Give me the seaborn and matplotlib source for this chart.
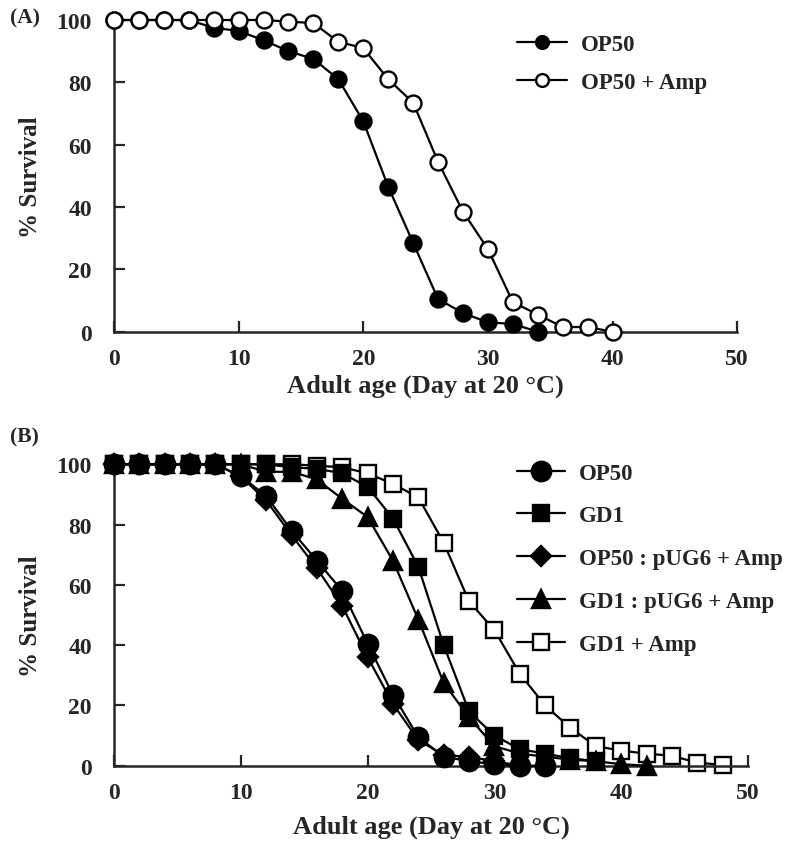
import matplotlib
matplotlib.use("Agg")
import matplotlib.pyplot as plt
import seaborn as sns

# Panel A
days_a_op50 = [0, 2, 4, 6, 8, 10, 12, 14, 16, 18, 20, 22, 24, 26, 28, 30, 32, 34]
surv_a_op50 = [100, 100, 100, 100, 97.5, 96.5, 93.5, 90, 87.5, 81, 67.5, 46.5, 28.5, 10.5, 6, 3, 2.5, 0]
days_a_amp = [0, 2, 4, 6, 8, 10, 12, 14, 16, 18, 20, 22, 24, 26, 28, 30, 32, 34, 36, 38, 40]
surv_a_amp = [100, 100, 100, 100, 100, 100, 100, 99.5, 99, 93, 91, 81, 73.5, 54.5, 38.5, 26.5, 9.5, 5.5, 1.5, 1.5, 0]

# Panel B
days_b_op50 = [0, 2, 4, 6, 8, 10, 12, 14, 16, 18, 20, 22, 24, 26, 28, 30, 32, 34]
surv_b_op50 = [100, 100, 100, 100, 100, 96, 89.5, 78, 68, 58, 40.5, 23.5, 9.5, 3, 1.5, 0.5, 0, 0]
days_b_gd1 = [0, 2, 4, 6, 8, 10, 12, 14, 16, 18, 20, 22, 24, 26, 28, 30, 32, 34, 36, 38]
surv_b_gd1 = [100, 100, 100, 100, 100, 100, 100, 99, 98.5, 97, 92.5, 82, 66, 40, 18, 10, 5.5, 4, 2.5, 1.5]
days_b_op50_pug = [0, 2, 4, 6, 8, 10, 12, 14, 16, 18, 20, 22, 24, 26, 28, 30, 32]
surv_b_op50_pug = [100, 100, 100, 100, 100, 96, 88, 76.5, 65.5, 53, 36, 20.5, 8.5, 3.5, 3, 1.5, 0]
days_b_gd1_pug = [0, 2, 4, 6, 8, 10, 12, 14, 16, 18, 20, 22, 24, 26, 28, 30, 32, 34, 36, 38, 40, 42]
surv_b_gd1_pug = [100, 100, 100, 100, 100, 100, 97.5, 97.5, 95, 88.5, 82.5, 68, 48.5, 27.5, 16, 6.5, 4, 3, 2, 1.5, 0.5, 0]
days_b_gd1_amp = [0, 2, 4, 6, 8, 10, 12, 14, 16, 18, 20, 22, 24, 26, 28, 30, 32, 34, 36, 38, 40, 42, 44, 46, 48]
surv_b_gd1_amp = [100, 100, 100, 100, 100, 100, 100, 100, 99.5, 99, 97, 93.5, 89, 74, 54.5, 45, 30.5, 20, 12.5, 6.5, 5, 4, 3.3, 1, 0.3]

sns.set_style("ticks")
plt.rcParams["font.family"] = ["Liberation Serif", "DejaVu Serif"]
plt.rcParams["font.weight"] = "bold"

fig = plt.figure(figsize=(8, 8.54), dpi=100)
ax_a = fig.add_axes([0.1425, 0.6104, 0.779, 0.365])
ax_b = fig.add_axes([0.1425, 0.1022, 0.7925, 0.353])


def draw(ax, x, y, marker, face, size, label, z):
    sns.lineplot(x=x, y=y, ax=ax, color="black", linewidth=1.6, marker=marker,
                 markersize=size, markerfacecolor=face, markeredgecolor="black",
                 markeredgewidth=1.7, label=label, clip_on=False, zorder=z)


draw(ax_a, days_a_op50, surv_a_op50, "o", "black", 11.5, "OP50", 3)
draw(ax_a, days_a_amp, surv_a_amp, "o", "white", 11.5, "OP50 + Amp", 4)

draw(ax_b, days_b_gd1_amp, surv_b_gd1_amp, "s", "white", 11, "GD1 + Amp", 2)
draw(ax_b, days_b_gd1_pug, surv_b_gd1_pug, "^", "black", 12.5, "GD1 : pUG6 + Amp", 3)
draw(ax_b, days_b_gd1, surv_b_gd1, "s", "black", 11, "GD1", 4)
draw(ax_b, days_b_op50_pug, surv_b_op50_pug, "D", "black", 10, "OP50 : pUG6 + Amp", 5)
draw(ax_b, days_b_op50, surv_b_op50, "o", "black", 14, "OP50", 6)

for ax, lp, ylx in ((ax_a, 3, -0.116), (ax_b, 8, -0.114)):
    ax.set_xlim(0, 50)
    ax.set_ylim(0, 100)
    ax.set_xticks([0, 10, 20, 30, 40, 50])
    ax.set_yticks([0, 20, 40, 60, 80, 100])
    sns.despine(ax=ax)
    for s in ("left", "bottom"):
        ax.spines[s].set_linewidth(1.8)
    ax.tick_params(direction="in", length=8, width=1.6, labelsize=17)
    ax.tick_params(axis="y", pad=16)
    ax.tick_params(axis="x", pad=12)
    ax.set_xlabel("Adult age (Day at 20 °C)", fontsize=19, fontweight="bold", labelpad=lp)
    ax.set_ylabel("% Survival", fontsize=18, fontweight="bold")
    ax.yaxis.set_label_coords(ylx, 0.5)
    for t in ax.get_xticklabels() + ax.get_yticklabels():
        t.set_fontweight("bold")

# legends in reference order
h, l = ax_a.get_legend_handles_labels()
ax_a.legend(h, l, loc="upper left", bbox_to_anchor=(0.613, 1.022), frameon=False,
            handlelength=2.2, handletextpad=0.6, labelspacing=0.75,
            markerscale=0.8, prop={"weight": "bold", "size": 16.5})

h, l = ax_b.get_legend_handles_labels()
order = ["OP50", "GD1", "OP50 : pUG6 + Amp", "GD1 : pUG6 + Amp", "GD1 + Amp"]
hd = dict(zip(l, h))
ax_b.legend([hd[k] for k in order], order, loc="upper left", bbox_to_anchor=(0.603, 1.074),
            frameon=False, handlelength=2.1, handletextpad=0.6, labelspacing=0.95,
            prop={"weight": "bold", "size": 16.5})

fig.text(10 / 800, 1 - 18 / 854, "(A)", fontsize=15.5, fontweight="bold", va="center")
fig.text(10 / 800, 1 - 437 / 854, "(B)", fontsize=15.5, fontweight="bold", va="center")

fig.savefig("out.png", dpi=100)
